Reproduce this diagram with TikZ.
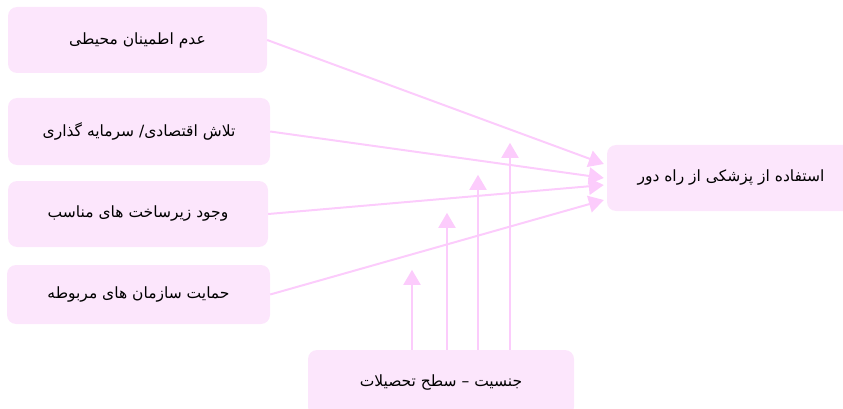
\documentclass[tikz,border=0pt]{standalone}
\usepackage{fontspec}
\newfontfamily\arabicfont[Script=Arabic]{DejaVu Sans}
\TeXXeTstate=1
\usetikzlibrary{arrows.meta,calc}
\definecolor{boxfill}{RGB}{252,230,252}
\definecolor{arrowpink}{RGB}{252,204,252}
\tikzset{
  box/.style={draw=none, fill=boxfill, rounded corners=9pt, inner sep=0pt,
    font=\arabicfont\fontsize{15.5}{18}\selectfont},
  link/.style={draw=arrowpink, line width=2pt,
    -{Triangle[width=17pt,length=15pt]}}
}
\begin{document}
\begin{tikzpicture}[x=1pt,y=-1pt]
\useasboundingbox (0,0) rectangle (843,409);
\clip (0,0) rectangle (843,409);
% left boxes
\node[box, minimum width=259pt, minimum height=66pt] (a) at (137.5,40) {\beginR عدم اطمینان محیطی\endR};
\node[box, minimum width=262pt, minimum height=67pt] (b) at (139,131.5) {\beginR تلاش اقتصادی/ سرمایه گذاری\endR};
\node[box, minimum width=260pt, minimum height=66pt] (c) at (138,214) {\beginR وجود زیرساخت های مناسب\endR};
\node[box, minimum width=263pt, minimum height=59pt] (d) at (138.5,294.5) {\beginR حمایت سازمان های مربوطه\endR};
% target box
\node[box, minimum width=248pt, minimum height=66pt] (r) at (731,178) {\beginR استفاده از پزشکی از راه دور\endR};
% moderator box
\node[box, minimum width=266pt, minimum height=66pt] (m) at (441,383) {\beginR جنسیت – سطح تحصیلات\endR};
% end points on target
\coordinate (e1) at ($(r.west)+(-3,-14)$);
\coordinate (e2) at ($(r.west)+(-3,0)$);
\coordinate (e3) at ($(r.west)+(-3,7)$);
\coordinate (e4) at ($(r.west)+(-3,22)$);
% vertical arrow tips
\coordinate (v1) at ($(m.north)+(-29,-80)$);
\coordinate (v2) at ($(m.north)+(6,-137)$);
\coordinate (v3) at ($(m.north)+(37,-175)$);
\coordinate (v4) at ($(m.north)+(69,-207)$);
\draw[link] (a.east) -- (e1);
\draw[link] (b.east) -- (e2);
\draw[link] (c.east) -- (e3);
\draw[link] (d.east) -- (e4);
\draw[link] ($(m.north)+(-29,0)$) -- (v1);
\draw[link] ($(m.north)+(6,0)$) -- (v2);
\draw[link] ($(m.north)+(37,0)$) -- (v3);
\draw[link] ($(m.north)+(69,0)$) -- (v4);
\end{tikzpicture}
\end{document}
